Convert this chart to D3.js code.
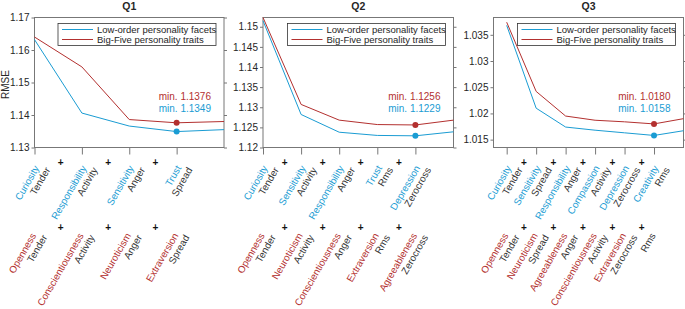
<!DOCTYPE html>
<html>
<head>
<meta charset="utf-8">
<script src="https://cdn.jsdelivr.net/npm/d3@7"></script>
<style>
  body { margin: 0; background: #fff; }
  text { font-family: "Liberation Sans", Arial, sans-serif; }
</style>
</head>
<body>
<div id="chart"></div>
<script>
// ---- data ----
const titles = ['Q1', 'Q2', 'Q3'];
const seriesNames = ['Low-order personality facets', 'Big-Five personality traits'];

const q1Facets = ['Curiosity', 'Responsibility', 'Sensitivity', 'Trust'];
const q1Traits = ['Openness', 'Conscientiousness', 'Neuroticism', 'Extraversion'];
const q1Features = ['Tender', 'Activity', 'Anger', 'Spread'];
const q1FacetRmse = [1.1632, 1.1406, 1.1366, 1.1349, 1.1355];
const q1TraitRmse = [1.1640, 1.1548, 1.1386, 1.1376, 1.1380];
const q1Ticks = [1.13, 1.14, 1.15, 1.16, 1.17];

const q2Facets = ['Curiosity', 'Sensitivity', 'Responsibility', 'Trust', 'Depression'];
const q2Traits = ['Openness', 'Neuroticism', 'Conscientiousness', 'Extraversion', 'Agreeableness'];
const q2Features = ['Tender', 'Activity', 'Anger', 'Rms', 'Zerocross'];
const q2FacetRmse = [1.1515, 1.1282, 1.1238, 1.1230, 1.1229, 1.1239];
const q2TraitRmse = [1.1523, 1.1307, 1.1268, 1.1257, 1.1256, 1.1268];
const q2Ticks = [1.12, 1.125, 1.13, 1.135, 1.14, 1.145, 1.15];

const q3Facets = ['Curiosity', 'Sensitivity', 'Responsibility', 'Compassion', 'Depression', 'Creativity'];
const q3Traits = ['Openness', 'Neuroticism', 'Agreeableness', 'Conscientiousness', 'Extraversion', ''];
const q3Features = ['Tender', 'Spread', 'Anger', 'Activity', 'Zerocross', 'Rms'];
const q3FacetRmse = [1.0368, 1.0210, 1.0174, 1.0168, 1.0163, 1.0158, 1.0167];
const q3TraitRmse = [1.0374, 1.0242, 1.0195, 1.0187, 1.0184, 1.0180, 1.0190];
const q3Ticks = [1.015, 1.02, 1.025, 1.03, 1.035];

// ---- layout ----
const width = 685, height = 309;
const plotTop = 17.5, plotBottom = 147.5;
const blue = '#1a9cd3', red = '#b3302f', dark = '#333';

const panels = [
  { title: titles[0], facets: q1Facets, traits: q1Traits, features: q1Features,
    facetVals: q1FacetRmse, traitVals: q1TraitRmse, ticks: q1Ticks,
    yDomain: [1.13, 1.17], xDomain: [1, 5], left: 34.5, right: 224 },
  { title: titles[1], facets: q2Facets, traits: q2Traits, features: q2Features,
    facetVals: q2FacetRmse, traitVals: q2TraitRmse, ticks: q2Ticks,
    yDomain: [1.12, 1.1523], xDomain: [1, 6], left: 263, right: 453.5 },
  { title: titles[2], facets: q3Facets, traits: q3Traits, features: q3Features,
    facetVals: q3FacetRmse, traitVals: q3TraitRmse, ticks: q3Ticks,
    yDomain: [1.0135, 1.0383], xDomain: [0.553, 7], left: 493.5, right: 683.5 }
];

const svg = d3.select('#chart').append('svg')
  .attr('width', width)
  .attr('height', height);

panels.forEach((p, pi) => {
  const g = svg.append('g');
  const n = p.facetVals.length;

  const x = d3.scaleLinear().domain(p.xDomain).range([p.left, p.right]);
  const y = d3.scaleLinear().domain(p.yDomain).range([plotBottom, plotTop]);

  // axes
  const xAxis = g.append('g')
    .attr('transform', `translate(0,${plotBottom})`)
    .call(d3.axisBottom(x).tickValues(d3.range(1, n)).tickSize(7).tickFormat(''));
  const yAxis = g.append('g')
    .attr('transform', `translate(${p.left},0)`)
    .call(d3.axisLeft(y).tickValues(p.ticks).tickSize(3).tickPadding(2)
      .tickFormat(d3.format('.4~f')));
  const yRight = g.append('g')
    .attr('transform', `translate(${p.right},0)`)
    .call(d3.axisRight(y).tickValues(p.ticks).tickSize(3).tickFormat(''));

  [xAxis, yAxis, yRight].forEach(a => {
    a.select('.domain').remove();
    a.selectAll('.tick line').attr('stroke', '#777');
  });
  yAxis.selectAll('.tick text').attr('font-size', 10).attr('fill', '#262626')
    .attr('font-family', '"Liberation Sans", Arial, sans-serif');

  g.append('rect')
    .attr('x', p.left).attr('y', plotTop)
    .attr('width', p.right - p.left).attr('height', plotBottom - plotTop)
    .attr('fill', 'none').attr('stroke', '#777').attr('stroke-width', 1);

  // lines
  const line = d3.line().x((d, i) => x(i + 1)).y(d => y(d));
  [[p.traitVals, red], [p.facetVals, blue]].forEach(([vals, col]) => {
    g.append('path')
      .datum(vals)
      .attr('d', line)
      .attr('fill', 'none')
      .attr('stroke', col)
      .attr('stroke-width', 1);
    const mi = d3.minIndex(vals);
    g.append('circle')
      .attr('cx', x(mi + 1)).attr('cy', y(vals[mi]))
      .attr('r', 3).attr('fill', col);
  });

  // min annotations
  const fmt = d3.format('.4f');
  g.append('text')
    .attr('x', p.right - 13).attr('y', 99.5)
    .attr('text-anchor', 'end').attr('font-size', 10).attr('fill', red)
    .text(`min. ${fmt(d3.min(p.traitVals))}`);
  g.append('text')
    .attr('x', p.right - 13).attr('y', 111.5)
    .attr('text-anchor', 'end').attr('font-size', 10).attr('fill', blue)
    .text(`min. ${fmt(d3.min(p.facetVals))}`);

  // legend
  const lw = 158, lh = 22;
  const lx = p.right - 8 - lw, ly = plotTop + 6;
  const legend = g.append('g').attr('transform', `translate(${lx},${ly})`);
  legend.append('rect')
    .attr('width', lw).attr('height', lh)
    .attr('fill', '#fff').attr('stroke', '#333').attr('stroke-width', 0.8);
  [[seriesNames[0], blue], [seriesNames[1], red]].forEach(([name, col], i) => {
    const yy = 6 + i * 10;
    legend.append('line')
      .attr('x1', 4).attr('x2', 35).attr('y1', yy).attr('y2', yy)
      .attr('stroke', col).attr('stroke-width', 1);
    legend.append('text')
      .attr('x', 39).attr('y', yy + 3.3)
      .attr('font-size', 9.5).attr('fill', '#262626')
      .text(name);
  });

  // title
  g.append('text')
    .attr('x', (p.left + p.right) / 2).attr('y', 9.5)
    .attr('text-anchor', 'middle').attr('font-size', 10.5)
    .attr('font-weight', 'bold').attr('fill', '#262626')
    .text(p.title);

  // rotated two-line tick labels, two rows
  const rows = [
    { names: p.facets, col: blue, y0: 168, dx: 5 },
    { names: p.traits, col: red, y0: 235.5, dx: 2 }
  ];
  rows.forEach(r => {
    r.names.forEach((name, i) => {
      const lab = g.append('g')
        .attr('transform', `translate(${x(i + 1) + r.dx},${r.y0}) rotate(-60)`);
      const lines = name ? [[name, r.col], [p.features[i], dark]] : [[p.features[i], dark]];
      lines.forEach(([t, col], k) => {
        lab.append('text')
          .attr('x', k * 4).attr('y', k * 10.5)
          .attr('text-anchor', 'end').attr('font-size', 9.8)
          .attr('fill', col)
          .text(t);
      });
    });
    // plus signs between ticks
    d3.range(1, n - 1).forEach(i => {
      g.append('text')
        .attr('x', (x(i) + x(i + 1)) / 2 + 2.5)
        .attr('y', r.y0 - 5 + (r.col === red ? -2 : 0))
        .attr('text-anchor', 'middle').attr('dominant-baseline', 'middle')
        .attr('font-size', 10).attr('font-weight', 'bold').attr('fill', '#111')
        .text('+');
    });
  });

  if (pi === 0) {
    g.append('text')
      .attr('transform', `translate(9,${(plotTop + plotBottom) / 2 + 2}) rotate(-90)`)
      .attr('text-anchor', 'middle').attr('font-size', 10).attr('fill', '#262626')
      .text('RMSE');
  }
});
</script>
</body>
</html>
